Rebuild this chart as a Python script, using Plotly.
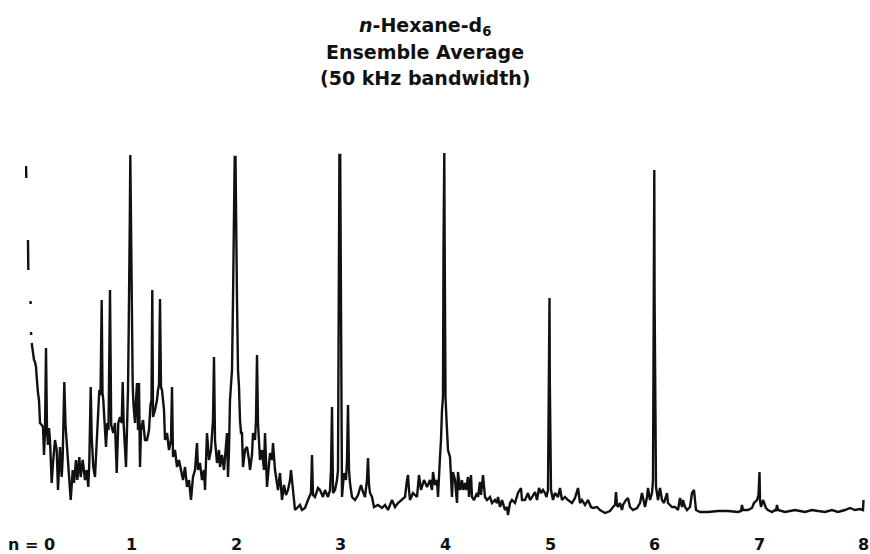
import plotly.graph_objects as go

# Spectrum: channel number (x) and intensity in arbitrary units (y).
# None entries mark places where the recorder pen left no trace.
channel = [
    -1, -0.7, None,
    1, 1.3, None,
    3.5, 3.7, None,
    4, 4.2, None,
    4.7, 5.7, 7, 8, 9, 9.7, 10, 10.5, 11, 12, 12.5, 13, 14.7, 16, 17, 18, 19, 20, 21, 22,
    23, 24.7, 26, 28, 29.7, 31, 33, 34.7, 35.7, 37.3, 38.5, 39, 41, 43.7, 45.7, 47, 49,
    50.3, 52.3, 53.7, 55.7, 58, 59.7, 61.3, 62.3, 63.7, 64.7, 66.3, 68, 69.7, 71.3, 72.3,
    73.5, 74.7, 75.5, 76.3, 78, 79, 80.3, 81.5, 83, 84.2, 86.3, 88, 89.7, 91.3, 93, 94.7,
    95.7, 96.7, 99, 100.3, 101, 101.7, 102.3, 102.8, 103.3, 103.8, 104.3, 105, 105.7, 106.5,
    108, 109, 110, 111, 112, 113, 114, 116, 118, 120, 122, 123.5, 124.5, 125.3, 126, 128,
    130, 131, 132, 133, 134, 135, 137, 138, 140, 142, 144, 145, 146, 148, 150, 152, 154,
    156, 158, 160, 162, 163, 164, 166, 168, 170, 171, 173, 175, 177, 178, 180, 182, 184,
    186, 187, 188, 190, 192, 193, 195, 197, 199, 200, 201, 202, 203, 204, 205, 206, 207,
    207.7, 208.5, 209, 210, 211, 212, 213, 214, 215, 216, 218, 220, 222, 223, 225, 226,
    228, 229, 230, 231, 233, 235, 237, 238, 240, 242, 243, 245, 246, 248, 250, 251, 253,
    255, 257, 259, 261, 263, 264, 266, 267, 268, 271, 273, 275, 278, 281, 284, 285, 286,
    288, 291, 293, 296, 298, 301, 303, 304, 305, 306, 308, 310, 311, 311.8, 312.4, 313.2,
    313.8, 314.5, 315, 317, 319, 320, 321, 322, 323, 325, 328, 331, 334, 336, 338, 340,
    341, 342, 343, 345, 347, 351, 355, 358, 361, 365, 368, 371, 375, 378, 380, 381, 382,
    383, 386, 390, 392, 394, 397, 400, 403, 405, 406, 408, 410, 411, 413, 414, 415, 416,
    416.5, 416.8, 417.3, 417.7, 418.5, 419.5, 420, 421, 423, 424, 425, 426, 428, 430, 431,
    433, 435, 436, 438, 439, 441, 442, 444, 445, 447, 450, 451, 453, 454, 456, 458, 460,
    463, 465, 468, 470, 471, 473, 475, 478, 480, 481, 483, 485, 488, 491, 494, 495, 498,
    501, 503, 505, 508, 510, 512, 514, 516, 518, 519.5, 521, 521.7, 522, 522.5, 522.8,
    523.5, 524, 526, 528, 531, 533, 535, 538, 541, 545, 548, 551, 553, 555, 558, 561, 564,
    566, 570, 573, 578, 583, 586, 588, 589, 590, 591, 593, 595, 596, 599, 601, 603, 606,
    610, 613, 615, 616, 618, 620, 621, 623, 625, 626, 626.5, 626.8, 627.3, 627.6, 628.3,
    629, 631, 633, 635, 637, 640, 641, 645, 648, 651, 653, 655, 656, 658, 660, 663, 665,
    667, 669, 673, 681, 691, 701, 711, 714, 715, 716, 721, 725, 727, 730, 731.5, 732,
    732.5, 733, 734, 736, 739, 741, 745, 748, 749, 750, 751, 758, 768, 778, 785, 791, 798,
    805, 811, 818, 823, 828, 833, 836, 836.5,
]
intensity = [
    354, 342, None,
    280, 250, None,
    219, 216, None,
    188, 185, None,
    177, 168, 160, 158, 153, 143, 135, 130, 127, 120, 105, 97, 95, 93, 65, 88, 172, 90, 75, 92,
    80, 37, 57, 80, 70, 30, 73, 43, 63, 138, 95, 87, 63, 20, 50, 37, 60,
    40, 63, 43, 60, 40, 50, 33, 57, 133, 83, 53, 43, 80, 117, 130,
    125, 220, 127, 120, 90, 73, 97, 90, 230, 95, 87, 97, 47, 97, 103, 97,
    138, 95, 53, 97, 130, 190, 230, 300, 365, 300, 230, 190, 135, 115,
    97, 120, 137, 90, 137, 53, 90, 100, 80, 80, 90, 115, 120, 230, 103, 110,
    120, 130, 135, 221, 133, 130, 110, 80, 87, 70, 80, 133, 63, 70, 53, 60, 50,
    40, 53, 33, 40, 30, 20, 43, 50, 77, 50, 57, 40, 50, 30, 87, 60, 70,
    100, 163, 80, 57, 70, 53, 65, 50, 75, 87, 43, 70, 120, 135, 150, 220, 290,
    363, 363, 290, 220, 150, 133, 100, 87, 87, 53, 70, 73, 60, 50, 65, 87,
    80, 100, 165, 97, 60, 70, 50, 87, 33, 55, 67, 60, 77, 50, 33, 30, 47,
    20, 35, 25, 30, 40, 50, 27, 15, 10, 13, 15, 10, 12, 20, 27, 65, 25,
    23, 32, 30, 23, 30, 23, 30, 50, 113, 27, 30, 40, 50, 220, 365, 365,
    220, 65, 23, 47, 40, 60, 115, 50, 37, 23, 20, 25, 35, 28, 23, 40,
    62, 35, 27, 23, 13, 15, 12, 15, 10, 20, 13, 17, 20, 23, 40, 45, 30,
    20, 27, 23, 45, 30, 40, 33, 40, 30, 48, 35, 40, 23, 63, 80, 110, 123,
    270, 367, 367, 270, 123, 100, 80, 70, 63, 37, 23, 48, 40, 17, 48,
    30, 40, 30, 37, 30, 43, 23, 45, 23, 20, 27, 23, 38, 25, 45, 23, 20,
    23, 17, 20, 17, 23, 13, 20, 10, 13, 5, 17, 20, 17, 27, 32, 20, 20,
    27, 20, 23, 28, 20, 32, 27, 30, 27, 23, 30, 140, 222, 222, 140,
    30, 30, 20, 27, 23, 32, 20, 23, 20, 17, 22, 32, 17, 20, 15, 20, 13,
    12, 13, 10, 7, 9, 13, 15, 28, 15, 13, 17, 10, 15, 20, 22, 13, 10,
    12, 17, 27, 23, 13, 23, 32, 20, 27, 40, 220, 350, 350, 220, 50,
    33, 20, 32, 20, 17, 27, 17, 13, 13, 10, 22, 13, 20, 13, 10, 13, 27,
    30, 10, 8, 8, 9, 9, 8, 9, 15, 10, 10, 12, 17, 20, 25, 48,
    48, 20, 13, 20, 12, 10, 8, 10, 9, 15, 10, 8, 10, 8, 10, 9, 8,
    10, 8, 10, 12, 10, 11, 10, 20,
]

channels_per_order = 104.6
orders = [0, 1, 2, 3, 4, 5, 6, 7, 8]
order_labels = ["n = 0", "1", "2", "3", "4", "5", "6", "7", "8"]

title_lines = ["<i>n</i>-Hexane-d<sub>6</sub>", "Ensemble Average", "(50 kHz bandwidth)"]

W, H = 870, 554
ml, mr, mt, mb = 25, 4, 150, 34
pw, ph = W - ml - mr, H - mt - mb
FONT = "DejaVu Sans"

fig = go.Figure()
fig.add_trace(go.Scatter(
    x=channel, y=intensity, mode="lines",
    line=dict(color="#111111", width=2.4),
    connectgaps=False, hoverinfo="skip", showlegend=False,
))

annotations = []
for n, lab in zip(orders, order_labels):
    annotations.append(dict(
        x=n * channels_per_order, xref="x", y=0, yref="paper",
        yshift=-24, xshift=(4 if n == 0 else 0), borderpad=0,
        text="<b>" + lab + "</b>", showarrow=False, xanchor="center", yanchor="middle",
        font=dict(family=FONT, size=16, color="#111111"),
    ))

title_px_y = [26, 52, 78]
title_px_x = 425
for txt, py in zip(title_lines, title_px_y):
    annotations.append(dict(
        x=(title_px_x - ml) / pw, xref="paper",
        y=(H - mb - py) / ph, yref="paper",
        text="<b>" + txt + "</b>", showarrow=False, xanchor="center", yanchor="middle",
        font=dict(family=FONT, size=19, color="#111111"),
    ))

fig.update_layout(
    width=W, height=H,
    margin=dict(l=ml, r=mr, t=mt, b=mb),
    paper_bgcolor="white", plot_bgcolor="white",
    xaxis=dict(range=[-2, 839], visible=False, fixedrange=True),
    yaxis=dict(range=[0, 370], visible=False, fixedrange=True),
    annotations=annotations,
)

fig.write_html(
    "out.html",
    config={"displayModeBar": False},
    post_script="document.body.style.margin='0';document.body.style.overflow='hidden';",
)
